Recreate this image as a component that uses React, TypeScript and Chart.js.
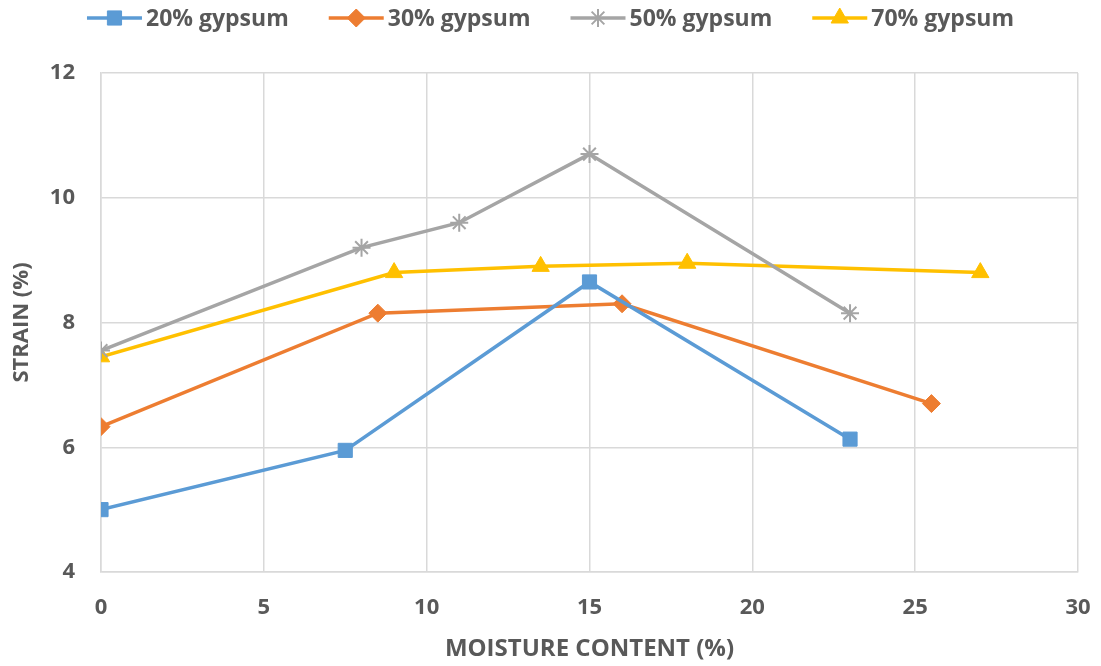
import React, { useEffect, useRef } from "react";
import { Chart, registerables } from "chart.js";
import { drawPoint } from "chart.js/helpers";

Chart.register(...registerables);

const seriesLabels = ["20% gypsum", "30% gypsum", "50% gypsum", "70% gypsum"];
const seriesColors = ["#5B9BD5", "#ED7D31", "#A5A5A5", "#FFC000"];
const seriesMarkers = ["rect", "rectRot", "star", "triangle"];
const markerSizes = [10, 9, 9, 10];

const x20 = [0, 7.5, 15, 23];
const y20 = [5.0, 5.95, 8.65, 6.13];
const x30 = [0, 8.5, 16, 25.5];
const y30 = [6.33, 8.15, 8.3, 6.7];
const x50 = [0, 8, 11, 15, 23];
const y50 = [7.55, 9.2, 9.6, 10.7, 8.15];
const x70 = [0, 9, 13.5, 18, 27];
const y70 = [7.45, 8.8, 8.9, 8.95, 8.8];

const xTicks = [0, 5, 10, 15, 20, 25, 30];
const yTicks = [4, 6, 8, 10, 12];

const xTitle = "MOISTURE CONTENT (%)";
const yTitle = "STRAIN (%)";

const FONT = '"Open Sans", "DejaVu Sans", sans-serif';
const TEXT = "#595959";
const GRID = "#D9D9D9";

const legendPlugin = {
  id: "lineMarkerLegend",
  afterDraw(chart: any) {
    const ctx = chart.ctx;
    ctx.save();
    ctx.font = `bold 23px ${FONT}`;
    const lineLen = 55;
    const gapText = 4;
    const gapItem = 40;
    const items = chart.data.datasets.map((ds: any) => ({
      ds,
      w: lineLen + gapText + ctx.measureText(ds.label).width,
    }));
    const total =
      items.reduce((a: number, b: any) => a + b.w, 0) + gapItem * (items.length - 1);
    let x = chart.width / 2 - total / 2;
    const y = 18;
    items.forEach(({ ds, w }: any) => {
      ctx.strokeStyle = ds.borderColor;
      ctx.lineWidth = 3.5;
      ctx.beginPath();
      ctx.moveTo(x, y);
      ctx.lineTo(x + lineLen, y);
      ctx.stroke();
      ctx.fillStyle = ds.pointBackgroundColor;
      ctx.strokeStyle = ds.pointBorderColor;
      ctx.lineWidth = ds.pointBorderWidth;
      drawPoint(
        ctx,
        { pointStyle: ds.pointStyle, rotation: 0, radius: ds.pointRadius, borderWidth: ds.pointBorderWidth },
        x + lineLen / 2,
        y
      );
      ctx.fillStyle = TEXT;
      ctx.textAlign = "left";
      ctx.textBaseline = "middle";
      ctx.fillText(ds.label, x + lineLen + gapText, y + 1);
      x += w + gapItem;
    });
    ctx.restore();
  },
};

function toPoints(xs: number[], ys: number[]) {
  return xs.map((x, i) => ({ x, y: ys[i] }));
}

export default function App() {
  const canvasRef = useRef<HTMLCanvasElement | null>(null);

  useEffect(() => {
    const xs = [x20, x30, x50, x70];
    const ys = [y20, y30, y50, y70];
    const datasets = seriesLabels.map((label, i) => ({
      label,
      data: toPoints(xs[i], ys[i]),
      showLine: true,
      borderColor: seriesColors[i],
      backgroundColor: seriesColors[i],
      borderWidth: 3.5,
      pointStyle: seriesMarkers[i],
      pointRadius: markerSizes[i],
      pointHoverRadius: markerSizes[i],
      pointBackgroundColor: seriesColors[i],
      pointBorderColor: seriesColors[i],
      pointBorderWidth: seriesMarkers[i] === "star" ? 2 : 1,
      tension: 0,
    }));

    const chart = new Chart(canvasRef.current as HTMLCanvasElement, {
      type: "scatter",
      data: { datasets },
      options: {
        animation: false,
        responsive: true,
        maintainAspectRatio: false,
        layout: { padding: { top: 73, right: 23, left: 0, bottom: 0 } },
        plugins: {
          legend: { display: false },
          tooltip: { enabled: false },
        },
        scales: {
          x: {
            type: "linear",
            min: 0,
            max: 30,
            afterBuildTicks: (s: any) => {
              s.ticks = xTicks.map((v) => ({ value: v }));
            },
            afterFit: (s: any) => {
              s.height = 94;
              s.paddingLeft = 0;
              s.paddingRight = 0;
            },
            grid: { color: GRID, lineWidth: 1.5, drawTicks: false },
            border: { color: GRID, width: 1.5 },
            ticks: {
              padding: 23,
              color: TEXT,
              font: { family: FONT, size: 22, weight: "bold" },
            },
            title: {
              display: true,
              text: xTitle,
              color: TEXT,
              font: { family: FONT, size: 24, weight: "bold" },
              padding: { top: 0, bottom: 2 },
            },
          },
          y: {
            type: "linear",
            min: 4,
            max: 12,
            afterBuildTicks: (s: any) => {
              s.ticks = yTicks.map((v) => ({ value: v }));
            },
            afterFit: (s: any) => {
              s.width = 101;
              s.paddingTop = 0;
              s.paddingBottom = 0;
            },
            grid: { color: GRID, lineWidth: 1.5, drawTicks: false },
            border: { color: GRID, width: 1.5 },
            ticks: {
              padding: 26,
              color: TEXT,
              font: { family: FONT, size: 22, weight: "bold" },
            },
            title: {
              display: true,
              text: yTitle,
              color: TEXT,
              font: { family: FONT, size: 22, weight: "bold" },
              padding: { top: 9, bottom: 0 },
            },
          },
        },
      },
      plugins: [legendPlugin],
    });
    return () => chart.destroy();
  }, []);

  return (
    <div style={{ position: "absolute", left: 0, top: 0, width: 1101, height: 666, background: "#fff" }}>
      <canvas ref={canvasRef} />
    </div>
  );
}
